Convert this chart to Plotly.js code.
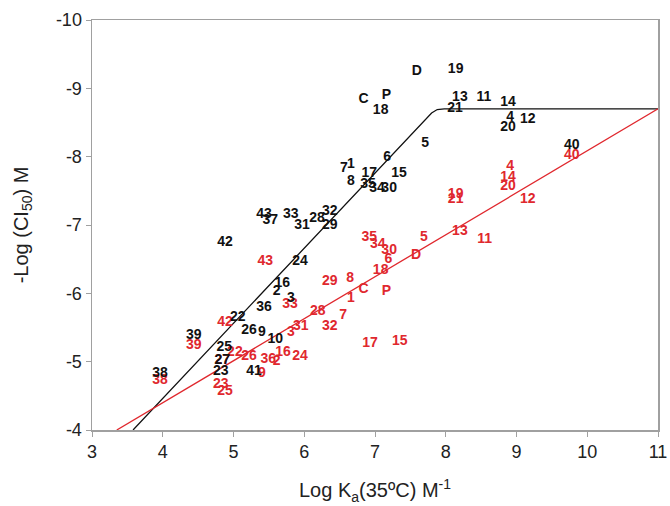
<!DOCTYPE html>
<html>
<head>
<meta charset="utf-8">
<script src="https://cdn.plot.ly/plotly-3.0.1.min.js"></script>
<style>html,body{margin:0;padding:0;background:#fff;}#chart{width:670px;height:506px;}</style>
</head>
<body>
<div id="chart"></div>
<script>
// Black labelled points (compound id, log Ka, -log CI50)
const blackLabels = ["D","19","C","P","18","13","11","14","21","4","12","20","5","40","6","7","1","8","17","15","35","34","30","43","37","33","28","32","31","29","42","24","16","2","36","3","22","26","9","10","39","25","27","23","41","38"];
const blackX = [7.59,8.14,6.84,7.16,7.08,8.20,8.54,8.88,8.13,8.91,9.16,8.88,7.71,9.78,7.17,6.56,6.66,6.66,6.92,7.34,6.90,7.03,7.20,5.43,5.52,5.81,6.18,6.36,5.97,6.36,4.88,5.94,5.69,5.61,5.43,5.81,5.06,5.22,5.40,5.59,4.44,4.87,4.84,4.82,5.29,3.96];
const blackY = [-9.24,-9.27,-8.83,-8.89,-8.67,-8.87,-8.86,-8.80,-8.70,-8.57,-8.55,-8.42,-8.20,-8.16,-7.99,-7.83,-7.89,-7.64,-7.75,-7.75,-7.60,-7.53,-7.53,-7.15,-7.07,-7.16,-7.09,-7.20,-6.99,-7.00,-6.74,-6.46,-6.14,-6.02,-5.79,-5.92,-5.64,-5.46,-5.43,-5.32,-5.39,-5.21,-5.01,-4.86,-4.86,-4.83];

// Red labelled points
const redLabels = ["4","14","20","40","19","21","12","13","11","5","D","35","34","30","6","18","P","C","8","29","1","43","33","28","7","31","32","3","42","39","22","26","16","24","17","15","36","2","9","27","23","25","38"];
const redX = [8.91,8.88,8.88,9.78,8.14,8.14,9.16,8.20,8.55,7.69,7.58,6.92,7.04,7.20,7.19,7.08,7.16,6.84,6.65,6.36,6.66,5.45,5.80,6.19,6.55,5.95,6.36,5.81,4.88,4.44,5.02,5.22,5.70,5.94,6.93,7.35,5.49,5.61,5.40,4.84,4.82,4.88,3.96];
const redY = [-7.85,-7.69,-7.57,-8.02,-7.44,-7.37,-7.37,-6.91,-6.79,-6.81,-6.55,-6.82,-6.71,-6.62,-6.49,-6.34,-6.02,-6.05,-6.22,-6.17,-5.93,-6.47,-5.83,-5.74,-5.68,-5.52,-5.51,-5.42,-5.57,-5.23,-5.14,-5.08,-5.13,-5.07,-5.26,-5.29,-5.03,-5.00,-4.82,-5.02,-4.66,-4.56,-4.72];

// Fitted trend lines
const blackFitX = [3.58, 7.72, 7.80, 7.88, 7.98, 11.0];
const blackFitY = [-4.0, -8.56, -8.64, -8.69, -8.70, -8.70];
const redFitX = [3.35, 11.0];
const redFitY = [-4.0, -8.70];

// Axis ticks
const xTicks = [3,4,5,6,7,8,9,10,11];
const yTicks = [-4,-5,-6,-7,-8,-9,-10];
const yTickText = ["-4","-5","-6","-7","-8","-9","-10"];

const RED = "#e0282e";
const labelFont = {family: "Liberation Sans, Arial, sans-serif", size: 14, weight: "bold"};

const traces = [
  {x: blackFitX, y: blackFitY, mode: "lines", line: {color: "#111", width: 1.3}, hoverinfo: "skip"},
  {x: redFitX, y: redFitY, mode: "lines", line: {color: RED, width: 1.3}, hoverinfo: "skip"},
  {x: redX, y: redY, text: redLabels, mode: "text", textposition: "middle center", textfont: Object.assign({color: RED}, labelFont), cliponaxis: false},
  {x: blackX, y: blackY, text: blackLabels, mode: "text", textposition: "middle center", textfont: Object.assign({color: "#111"}, labelFont), cliponaxis: false}
];

const axisCommon = {
  showgrid: false, zeroline: false, showline: true, linecolor: "#a0a0a0", linewidth: 1.5,
  mirror: true, ticks: "outside", ticklen: 5, tickcolor: "#a0a0a0", tickwidth: 1,
  tickfont: {family: "Liberation Sans, Arial, sans-serif", size: 18, color: "#222"},
  automargin: false
};

const layout = {
  width: 670, height: 506,
  margin: {l: 92, r: 12, t: 20, b: 76},
  paper_bgcolor: "#fff", plot_bgcolor: "#fff",
  showlegend: false,
  xaxis: Object.assign({}, axisCommon, {
    range: [3, 11], tickvals: xTicks, ticktext: xTicks.map(String),
    title: {text: "Log K<sub>a</sub>(35ºC) M<sup>-1</sup>", font: {family: "Liberation Sans, Arial, sans-serif", size: 20, color: "#222"}, standoff: 22}
  }),
  yaxis: Object.assign({}, axisCommon, {
    range: [-4, -10], tickvals: yTicks, ticktext: yTickText,
    title: {text: "-Log (CI<sub>50</sub>) M", font: {family: "Liberation Sans, Arial, sans-serif", size: 20, color: "#222"}, standoff: 22}
  })
};

Plotly.newPlot("chart", traces, layout, {displayModeBar: false, staticPlot: true});
</script>
</body>
</html>
